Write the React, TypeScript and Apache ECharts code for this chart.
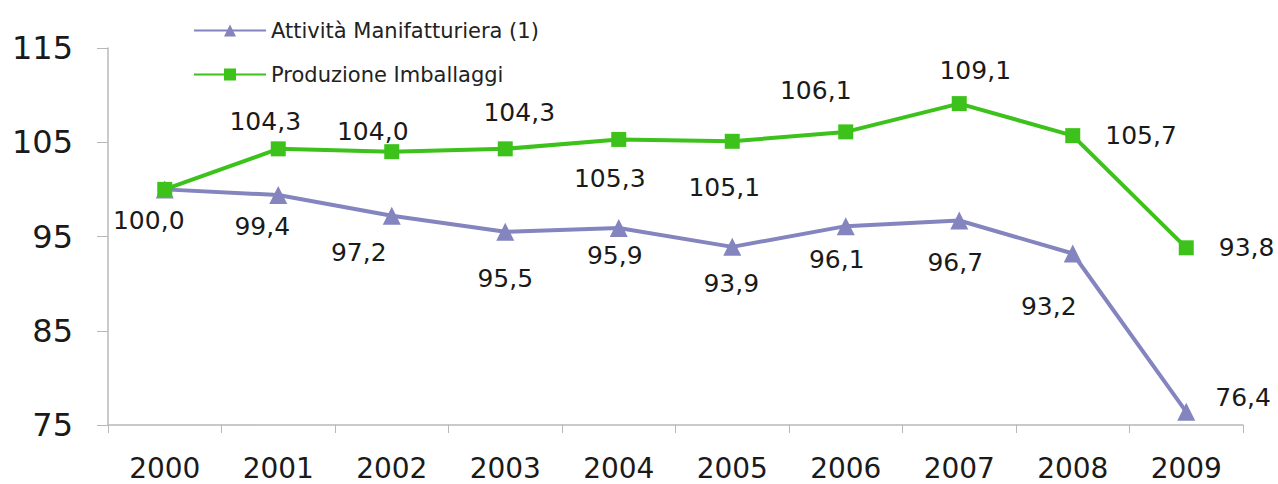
import React, { useEffect, useRef } from "react";
import * as echarts from "echarts";

const years = ["2000", "2001", "2002", "2003", "2004", "2005", "2006", "2007", "2008", "2009"];
const manifatturiera = [100.0, 99.4, 97.2, 95.5, 95.9, 93.9, 96.1, 96.7, 93.2, 76.4];
const imballaggi = [100.0, 104.3, 104.0, 104.3, 105.3, 105.1, 106.1, 109.1, 105.7, 93.8];
const seriesNames = ["Attività Manifatturiera (1)", "Produzione Imballaggi"];

// label placement (style only): [position, dx, dy]
const purpleLabelPos: [string, number, number][] = [
  ["bottom", -16, 5],
  ["bottom", -16, 5],
  ["bottom", -33, 10],
  ["bottom", 0, 20],
  ["bottom", -4, 1],
  ["bottom", -1, 10],
  ["bottom", -9, 7],
  ["bottom", -4, 16],
  ["bottom", -24, 27],
  ["right", 15, -14],
];
const greenLabelPos: [string, number, number][] = [
  ["top", 0, 0],
  ["top", -13, -2],
  ["top", -19, 5],
  ["top", 14, -11],
  ["bottom", -9, 14],
  ["bottom", -8, 21],
  ["top", -30, -16],
  ["top", 16, -8],
  ["right", 20, 0],
  ["right", 20, 0],
];

const PURPLE = "#8484bf";
const GREEN = "#3cc21a";
const FONT = "DejaVu Sans";
const fmt = (v: number) => v.toFixed(1).replace(".", ",");

export default function App() {
  const ref = useRef<HTMLDivElement>(null);
  useEffect(() => {
    if (!ref.current) return;
    const chart = echarts.init(ref.current, null, { renderer: "svg" });
    const labelBase = {
      show: true,
      fontFamily: FONT,
      fontSize: 25,
      color: "#1a1a1a",
      formatter: (p: any) => fmt(p.value),
    };
    chart.setOption({
      animation: false,
      backgroundColor: "#ffffff",
      textStyle: { fontFamily: FONT },
      legend: {
        orient: "vertical",
        left: 188,
        top: 15,
        itemGap: 23,
        itemWidth: 72,
        itemHeight: 15,
        textStyle: { fontSize: 21, color: "#222", fontFamily: FONT },
        data: seriesNames,
      },
      grid: { left: 108, right: 35, top: 48, bottom: 59 },
      xAxis: {
        type: "category",
        data: years,
        boundaryGap: true,
        axisLine: { lineStyle: { color: "#b8b8b8", width: 1.5 } },
        axisTick: { show: true, length: 8, lineStyle: { color: "#b8b8b8" } },
        axisLabel: { fontSize: 28, color: "#1a1a1a", margin: 29, fontFamily: FONT },
      },
      yAxis: {
        type: "value",
        min: 75,
        max: 115,
        interval: 10,
        splitLine: { show: false },
        axisLine: { show: true, lineStyle: { color: "#b8b8b8", width: 1.5 } },
        axisTick: { show: true, length: 11, lineStyle: { color: "#b8b8b8" } },
        axisLabel: { fontSize: 32, color: "#1a1a1a", margin: 35, fontFamily: FONT },
      },
      series: [
        {
          name: seriesNames[0],
          type: "line",
          symbol: "triangle",
          symbolSize: 18,
          itemStyle: { color: PURPLE },
          lineStyle: { color: PURPLE, width: 4 },
          z: 2,
          data: manifatturiera.map((v, i) => ({
            value: v,
            label: {
              ...labelBase,
              position: purpleLabelPos[i][0],
              offset: [purpleLabelPos[i][1], purpleLabelPos[i][2]],
            },
          })),
        },
        {
          name: seriesNames[1],
          type: "line",
          symbol: "rect",
          symbolSize: 15,
          itemStyle: { color: GREEN },
          lineStyle: { color: GREEN, width: 4 },
          z: 3,
          data: imballaggi.map((v, i) => ({
            value: v,
            label: {
              ...labelBase,
              show: i !== 0,
              position: greenLabelPos[i][0],
              offset: [greenLabelPos[i][1], greenLabelPos[i][2]],
            },
          })),
        },
      ],
    });
    return () => chart.dispose();
  }, []);
  return (
    <div
      ref={ref}
      style={{ position: "fixed", left: 0, top: 0, width: 1278, height: 484 }}
    />
  );
}
